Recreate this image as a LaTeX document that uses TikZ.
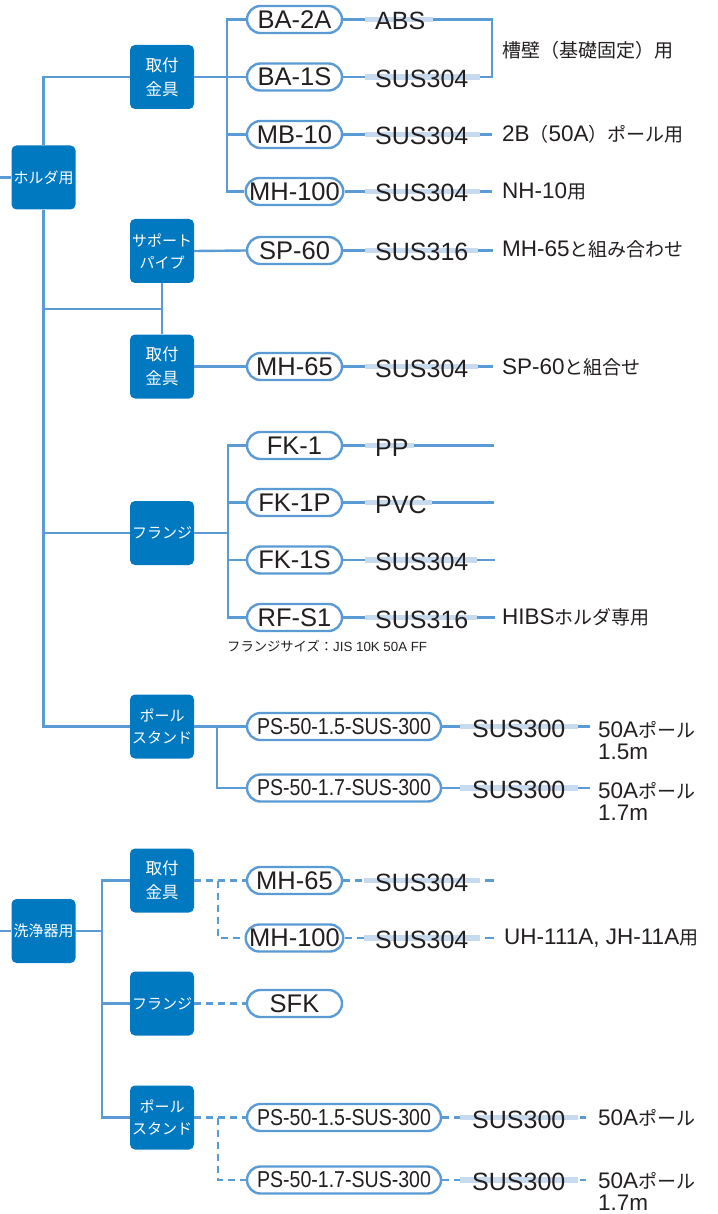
\documentclass[tikz,border=0pt]{standalone}
\usepackage{fontspec}
\usepackage{graphicx}
\setmainfont{Liberation Sans}
\newfontfamily\jp{Noto Sans CJK JP}
\usetikzlibrary{shapes.misc}
\definecolor{boxblue}{HTML}{0079C1}
\definecolor{lineblue}{HTML}{5B9BD5}
\definecolor{bandblue}{HTML}{C8DAEE}
\definecolor{txt}{HTML}{231F20}
\newcommand{\jn}[1]{{\jp\fontsize{19}{22}\selectfont #1}}
\newcommand{\mrow}[8]{%
  \coordinate (#3a) at (#5,#2);
  \coordinate (#3b) at (#7,#2);
  \draw[band] (#3a) -- (#3b);
  \node[mat] (#3) at (#6,{#2+10.5}) {#4};
  \draw[#8] (#1.east) -- (#3a);
}
\tikzset{
  cat/.style={rectangle, rounded corners=5pt, fill=boxblue, minimum width=64pt, minimum height=64pt, inner sep=0pt, text=white, align=center, font=\jp\fontsize{15}{22}\selectfont},
  catk/.style={cat, font=\jp\fontsize{16.5}{24}\selectfont},
  pill/.style={rounded rectangle, draw=lineblue, line width=2.4pt, fill=white, minimum width=95pt, minimum height=27pt, inner sep=0pt, text=txt, font=\fontsize{25.5}{26}\selectfont},
  pillw/.style={pill, minimum width=194pt, font=\fontsize{23}{24}\selectfont},
  link/.style={draw=lineblue, line width=2.4pt},
  dlink/.style={link, dash pattern=on 7pt off 5pt},
  band/.style={draw=bandblue, line width=5.5pt},
  mat/.style={anchor=base west, inner sep=0pt, text=txt, font=\fontsize{25}{25}\selectfont},
  note/.style={anchor=west, inner sep=0pt, text=txt, align=left, font=\fontsize{22.5}{22}\selectfont},
  captxt/.style={anchor=west, inner sep=0pt, text=txt, font=\fontsize{13.3}{15}\selectfont},
}
\begin{document}
\begin{tikzpicture}[x=1pt,y=-1pt]
\useasboundingbox (0,0) rectangle (717,1214);

% ---------------- holder section ----------------
\node[cat] (H) at (43.5,177.5) {ホルダ用};
\coordinate (Hin) at (0,177.5);
\node[catk] (K1) at (162,77) {取付\\金具};
\node[cat] (S) at (162,251) {サポート\\パイプ};
\node[catk] (K2) at (162,366.5) {取付\\金具};
\node[cat] (F1) at (162,533) {フランジ};
\node[cat] (P1) at (162,726.5) {ポール\\スタンド};

\draw[link] (Hin) -- (H.west);
\draw[link] (K1.west) -| (H.north);
\draw[link] (H.south) |- (P1.west);
\draw[link] (H.south) |- (F1.west);
\coordinate (J) at (162,309);
\draw[link] (H.south) |- (J);
\draw[link] (S.south) -- (K2.north);

\node[pill] (BA2A) at (294.5,19.5) {BA-2A};
\node[pill] (BA1S) at (294.5,77) {BA-1S};
\node[pill] (MB10) at (294.5,134.5) {MB-10};
\node[pill] (MH100) at (294.5,191.5) {MH-100};
\node[pill] (SP60) at (294.5,250.5) {SP-60};
\node[pill] (MH65) at (294.5,366.5) {MH-65};
\node[pill] (FK1) at (294.5,445.5) {FK-1};
\node[pill] (FK1P) at (294.5,502.5) {FK-1P};
\node[pill] (FK1S) at (294.5,560) {FK-1S};
\node[pill] (RFS1) at (294.5,617.5) {RF-S1};
\node[pillw] (PSa) at (344,726.5) {\scalebox{0.85}[1]{PS-50-1.5-SUS-300}};
\node[pillw] (PSb) at (344,788) {\scalebox{0.85}[1]{PS-50-1.7-SUS-300}};

\coordinate (B1) at (227,77);
\draw[link] (K1.east) -- (B1);
\foreach \p in {BA2A,BA1S,MB10,MH100} \draw[link] (B1) |- (\p.west);
\draw[link] (S.east) -- (SP60.west);
\draw[link] (K2.east) -- (MH65.west);
\coordinate (B3) at (228,533);
\draw[link] (F1.east) -- (B3);
\foreach \p in {FK1,FK1P,FK1S,RFS1} \draw[link] (B3) |- (\p.west);
\coordinate (B4) at (217,726.5);
\draw[link] (P1.east) -- (B4);
\draw[link] (B4) |- (PSa.west);
\draw[link] (B4) |- (PSb.west);

\mrow{BA2A}{19.5}{mA}{ABS}{365}{375}{433}{link}
\mrow{BA1S}{77}{mB}{SUS304}{365}{375}{480}{link}
\mrow{MB10}{134.5}{mC}{SUS304}{365}{375}{480}{link}
\mrow{MH100}{191.5}{mD}{SUS304}{365}{375}{480}{link}
\mrow{SP60}{250.5}{mE}{SUS316}{365}{375}{478}{link}
\mrow{MH65}{366.5}{mF}{SUS304}{365}{375}{478}{link}
\mrow{FK1}{445.5}{mG}{PP}{365}{375}{414}{link}
\mrow{FK1P}{502.5}{mH}{PVC}{365}{375}{432}{link}
\mrow{FK1S}{560}{mI}{SUS304}{365}{375}{477}{link}
\mrow{RFS1}{617.5}{mJ}{SUS316}{365}{375}{477}{link}
\mrow{PSa}{726.5}{mK}{SUS300}{460}{472}{578}{link}
\mrow{PSb}{788}{mL}{SUS300}{460}{472}{578}{link}

\coordinate (brA) at (492,19.5);
\coordinate (brB) at (492,77);
\draw[link] (mAb) -- (brA) -- (brB) -- (mBb);
\node[note] (nA) at (502,50) {\jn{槽壁（基礎固定）用}};

\coordinate (eC) at (492,134.5);
\draw[link] (mCb) -- (eC);
\node[note] (nC) at (502,134.5) {2B\jn{（}50A\jn{）ポール用}};

\coordinate (eD) at (492,191.5);
\draw[link] (mDb) -- (eD);
\node[note] (nD) at (502,191.5) {NH-10\jn{用}};

\coordinate (eE) at (493,250.5);
\draw[link] (mEb) -- (eE);
\node[note] (nE) at (502,249.5) {MH-65\jn{と組み合わせ}};

\coordinate (eF) at (493,366.5);
\draw[link] (mFb) -- (eF);
\node[note] (nF) at (502,367) {SP-60\jn{と組合せ}};

\coordinate (eG) at (494,445.5);
\draw[link] (mGb) -- (eG);
\coordinate (eH) at (494,502.5);
\draw[link] (mHb) -- (eH);
\coordinate (eI) at (495,560);
\draw[link] (mIb) -- (eI);
\coordinate (eJ) at (495,617.5);
\draw[link] (mJb) -- (eJ);
\node[note] (nJ) at (502,617.5) {HIBS\jn{ホルダ専用}};

\node[captxt] (capF) at (227,646) {{\jp フランジサイズ：}JIS 10K 50A FF};

\coordinate (eK) at (590,726.5);
\draw[link] (mKb) -- (eK);
\node[note] (nK) at (598,741) {50A\jn{ポール}\\1.5m};
\coordinate (eL) at (590,788);
\draw[link] (mLb) -- (eL);
\node[note] (nL) at (598,801) {50A\jn{ポール}\\1.7m};

% ---------------- washer section ----------------
\node[cat] (W) at (43.5,931) {洗浄器用};
\coordinate (Win) at (0,931);
\draw[link] (Win) -- (W.west);
\node[catk] (K3) at (162,880.5) {取付\\金具};
\node[cat] (F2) at (162,1003.5) {フランジ};
\node[cat] (P2) at (162,1117.5) {ポール\\スタンド};
\coordinate (T2) at (102,931);
\draw[link] (W.east) -- (T2);
\draw[link] (K3.west) -| (T2);
\draw[link] (P2.west) -| (T2);
\draw[link] (F2.west) -- (T2 |- F2.west);

\node[pill] (MH65b) at (294.5,880.5) {MH-65};
\node[pill] (MH100b) at (294.5,938) {MH-100};
\node[pill] (SFK) at (294.5,1003.5) {SFK};
\node[pillw] (PSc) at (344,1117.5) {\scalebox{0.85}[1]{PS-50-1.5-SUS-300}};
\node[pillw] (PSd) at (344,1180) {\scalebox{0.85}[1]{PS-50-1.7-SUS-300}};

\coordinate (B5) at (218,880.5);
\draw[dlink] (K3.east) -- (MH65b.west);
\draw[dlink] (B5) |- (MH100b.west);
\draw[dlink] (F2.east) -- (SFK.west);
\coordinate (B6) at (218,1117.5);
\draw[dlink] (P2.east) -- (PSc.west);
\draw[dlink] (B6) |- (PSd.west);

\mrow{MH65b}{880.5}{mM}{SUS304}{364}{375}{480}{dlink}
\mrow{MH100b}{938}{mN}{SUS304}{364}{375}{480}{dlink}
\mrow{PSc}{1117.5}{mO}{SUS300}{460}{472}{578}{dlink}
\mrow{PSd}{1180}{mP}{SUS300}{460}{472}{578}{dlink}

\coordinate (sM) at (485,880.5);
\coordinate (eM) at (494,880.5);
\draw[link] (sM) -- (eM);
\coordinate (sN) at (485,938);
\coordinate (eN) at (494,938);
\draw[link] (sN) -- (eN);
\node[note] (nN) at (504,938) {UH-111A, JH-11A\jn{用}};

\coordinate (sO) at (580,1117.5);
\coordinate (eO) at (586,1117.5);
\draw[link] (sO) -- (eO);
\node[note] (nO) at (598,1117.5) {50A\jn{ポール}};
\coordinate (sP) at (580,1180);
\coordinate (eP) at (586,1180);
\draw[link] (sP) -- (eP);
\node[note] (nP) at (598,1191) {50A\jn{ポール}\\1.7m};
\end{tikzpicture}
\end{document}
